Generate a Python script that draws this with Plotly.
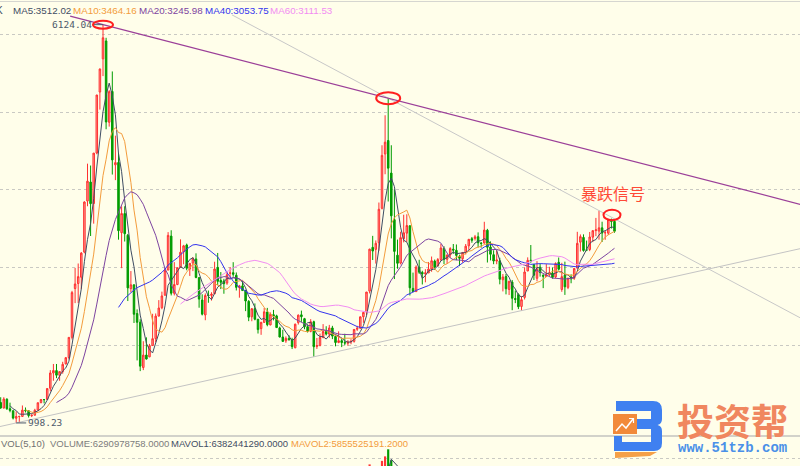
import pandas as pd
import plotly.graph_objects as go

W, H = 800, 466
BG = "#fffeea"

# ---- Shanghai Composite, monthly bars (Dec 2004 .. Jul 2021) ----
MONTHS = pd.period_range("2004-12", "2021-07", freq="M").strftime("%Y-%m").tolist()

OPEN = [
    1340,
    1261, 1189, 1303, 1181, 1155, 1058, 1080, 1082, 1163, 1155, 1092, 1098,
    1163, 1260, 1299, 1300, 1445, 1641, 1672, 1612, 1658, 1758, 1840, 2100,
    2728, 2792, 2874, 3197, 3854, 4098, 3822, 4472, 5257, 5684, 5914, 4868,
    5265, 4320, 4350, 3447, 3693, 3414, 2727, 2775, 2406, 2295, 1711, 1872,
    1849, 1994, 2084, 2373, 2481, 2641, 2966, 3403, 2667, 2780, 3000, 3200,
    3289, 2979, 3055, 3109, 2868, 2580, 2388, 2641, 2639, 2661, 3000, 2834,
    2825, 2798, 2925, 2932, 2899, 2740, 2762, 2702, 2563, 2364, 2469, 2333,
    2212, 2292, 2426, 2260, 2392, 2376, 2221, 2104, 2055, 2086, 2069, 1966,
    2289, 2389, 2340, 2237, 2178, 2301, 1983, 1996, 2098, 2175, 2141, 2221,
    2112, 2034, 2057, 2033, 2023, 2040, 2048, 2204, 2218, 2366, 2425, 2695,
    3258, 3232, 3318, 3760, 4460, 4633, 4214, 3614, 3157, 3056, 3369, 3441,
    3536, 2730, 2688, 3003, 2936, 2917, 2929, 2979, 3081, 3017, 3101, 3244,
    3105, 3160, 3234, 3220, 3142, 3112, 3192, 3278, 3370, 3373, 3395, 3315,
    3314, 3478, 3262, 3163, 3081, 3084, 2841, 2882, 2716, 2811, 2599, 2650,
    2497, 2614, 2954, 3092, 3035, 2860, 3003, 2900, 2882, 2903, 2928, 2878,
    3066, 2716, 2899, 2743, 2877, 2860, 2991, 3325, 3386, 3225, 3230, 3389,
    3474, 3467, 3509, 3445, 3441, 3617, 3592,
]
HIGH = [
    1346,
    1329, 1329, 1316, 1259, 1158, 1147, 1085, 1223, 1197, 1157, 1104, 1180,
    1260, 1306, 1304, 1445, 1678, 1757, 1757, 1662, 1785, 1847, 2101, 2698,
    2994, 3050, 3197, 3851, 4335, 4311, 4472, 5219, 5561, 6124.04, 5955, 5281,
    5522, 4695, 4472, 3786, 3787, 3430, 2953, 2785, 2460, 2333, 2050, 2100,
    2016, 2403, 2407, 2579, 2688, 2993, 3454, 3478, 3068, 3000, 3361, 3290,
    3306, 3052, 3133, 3181, 2874, 2654, 2665, 2702, 2680, 3073, 3186, 2940,
    2853, 2942, 3002, 3067, 2935, 2775, 2827, 2711, 2579, 2475, 2536, 2335,
    2300, 2478, 2479, 2420, 2453, 2391, 2237, 2197, 2112, 2126, 2094, 2276,
    2394, 2444, 2350, 2269, 2334, 2314, 2092, 2149, 2270, 2243, 2260, 2248,
    2126, 2177, 2087, 2146, 2064, 2076, 2207, 2248, 2366, 2423, 2683, 3240,
    3406, 3347, 3835, 4572, 4958, 5178.19, 4572, 4006, 3358, 3459, 3678, 3684,
    3539, 2933, 3026, 3098, 2957, 2977, 3070, 3140, 3101, 3120, 3301, 3272,
    3165, 3260, 3301, 3295, 3163, 3193, 3301, 3367, 3392, 3418, 3451, 3324,
    3587, 3496, 3334, 3220, 3219, 3124, 2915, 2915, 2827, 2838, 2703, 2667,
    2630, 2999, 3129, 3288, 3044, 3080, 3048, 2910, 3042, 3008, 2998, 3065,
    3127, 3059, 3074, 2867, 2911, 2993, 3458, 3424, 3425, 3345, 3456, 3474,
    3637, 3731.69, 3588, 3481, 3625, 3628, 3620,
]
LOW = [
    1259,
    1179, 1187, 1166, 1135, 1043, 998.23, 1004, 1078, 1133, 1068, 1074, 1094,
    1163, 1251, 1250, 1297, 1405, 1541, 1575, 1541, 1632, 1751, 1816, 2073,
    2540, 2541, 2722, 3181, 3787, 3404, 3563, 4456, 5031, 5462, 4778, 4812,
    4195, 4123, 3357, 2990, 3333, 2567, 2680, 2284, 1803, 1664.93, 1678, 1814,
    1844, 1990, 2037, 2370, 2461, 2640, 2963, 2639, 2639, 2771, 2999, 3040,
    2963, 2890, 2952, 2860, 2481, 2382, 2320, 2545, 2573, 2661, 2774, 2721,
    2661, 2776, 2861, 2880, 2703, 2610, 2700, 2437, 2308, 2307, 2319, 2149,
    2132, 2289, 2242, 2254, 2318, 2224, 2100, 2046, 2029, 2058, 1949, 1959,
    2264, 2299, 2204, 2162, 2165, 1849.65, 1951, 1984, 2088, 2124, 2095, 2077,
    1984, 2024, 1974, 1999, 1991, 2011, 2032, 2183, 2209, 2287, 2386, 2665,
    3095, 3049, 3214, 3746, 4199, 3848, 3373, 2850, 2983, 3039, 3322, 3328,
    2638, 2682, 2684, 2916, 2780, 2808, 2927, 2944, 2969, 3017, 3082, 3042,
    3045, 3123, 3174, 3093, 3016, 3062, 3166, 3225, 3317, 3346, 3255, 3254,
    3305, 3063, 3091, 3041, 3041, 2782, 2691, 2653, 2644, 2449, 2540, 2463,
    2440, 2587, 2952, 3059, 2838, 2822, 2881, 2733, 2877, 2891, 2855, 2857,
    2960, 2686, 2646, 2720, 2796, 2840, 2988, 3204, 3202, 3209, 3209, 3325,
    3402, 3357, 3328, 3355, 3416, 3500, 3446,
]
CLOSE = [
    1266.50,
    1191.82, 1306.00, 1181.24, 1159.15, 1060.74, 1080.94, 1083.03, 1162.80, 1155.61, 1092.82, 1099.26, 1161.06,
    1258.05, 1299.03, 1298.30, 1440.22, 1641.30, 1672.21, 1612.73, 1658.64, 1752.42, 1837.99, 2099.29, 2675.47,
    2786.34, 2881.07, 3183.98, 3841.27, 4109.65, 3820.70, 4471.03, 5218.83, 5552.30, 5954.77, 4871.78, 5261.56,
    4383.39, 4348.54, 3472.71, 3693.11, 3433.35, 2736.10, 2775.72, 2397.37, 2293.78, 1728.79, 1871.16, 1820.81,
    1990.66, 2082.85, 2373.21, 2477.57, 2632.93, 2959.36, 3412.06, 2667.74, 2779.43, 2995.85, 3195.30, 3277.14,
    2989.29, 3051.94, 3109.10, 2870.61, 2592.15, 2398.37, 2637.50, 2638.80, 2655.66, 2978.84, 2820.18, 2808.08,
    2790.69, 2905.05, 2928.11, 2911.51, 2743.47, 2762.08, 2701.73, 2567.34, 2359.22, 2468.25, 2333.41, 2199.42,
    2292.61, 2428.49, 2262.79, 2396.32, 2372.23, 2225.43, 2103.63, 2047.52, 2086.17, 2068.88, 1980.12, 2269.13,
    2385.42, 2365.59, 2236.62, 2177.91, 2300.59, 1979.21, 1993.80, 2098.38, 2174.67, 2141.61, 2220.50, 2115.98,
    2033.08, 2056.30, 2033.31, 2026.36, 2039.21, 2048.33, 2201.56, 2217.20, 2363.87, 2420.18, 2682.84, 3234.68,
    3210.36, 3310.30, 3747.90, 4441.66, 4611.74, 4277.22, 3663.73, 3205.99, 3052.78, 3382.56, 3445.40, 3539.18,
    2737.60, 2687.98, 3003.92, 2938.32, 2916.62, 2929.61, 2979.34, 3085.49, 3004.70, 3100.49, 3250.03, 3103.64,
    3159.17, 3241.73, 3222.51, 3154.66, 3117.18, 3192.43, 3273.03, 3360.81, 3348.94, 3393.34, 3317.19, 3307.17,
    3480.83, 3259.41, 3169.05, 3082.23, 3095.47, 2847.42, 2876.40, 2725.25, 2821.35, 2602.78, 2588.19, 2493.90,
    2584.57, 2940.95, 3090.76, 3078.34, 2898.70, 2978.88, 2932.69, 2886.24, 2905.19, 2929.06, 2871.98, 3050.12,
    2976.53, 2880.30, 2750.30, 2860.08, 2852.35, 2984.67, 3310.01, 3395.68, 3218.00, 3224.53, 3391.76, 3473.07,
    3483.07, 3509.08, 3441.91, 3446.86, 3615.48, 3591.20, 3464.65,
]
# monthly volume, in units of 1e8 lots
VOLUME = [
    4.2,
    3.5, 5.0, 4.6, 5.3, 3.4, 5.6, 3.6, 6.9, 4.9, 3.3, 3.4, 4.8,
    5.2, 6.7, 6.2, 9.9, 17.5, 17.0, 13.6, 8.7, 10.4, 9.8, 18.6, 30.5,
    37.4, 27.8, 40.2, 56.3, 68.0, 44.1, 36.5, 42.7, 32.0, 24.6, 19.5, 21.3,
    26.8, 14.4, 20.6, 25.5, 23.2, 14.6, 16.3, 11.4, 14.8, 11.9, 17.0, 20.9,
    13.8, 33.2, 39.5, 38.1, 29.7, 41.4, 60.6, 42.2, 34.2, 26.7, 47.7, 35.6,
    37.2, 19.9, 29.1, 31.4, 27.3, 16.1, 22.7, 30.3, 20.0, 41.6, 45.6, 26.0,
    21.3, 25.5, 35.0, 32.3, 22.6, 19.4, 24.2, 23.7, 14.7, 14.9, 20.4, 13.8,
    9.6, 25.5, 28.4, 19.0, 24.1, 14.3, 15.4, 14.6, 12.9, 9.4, 11.3, 25.0,
    30.3, 20.9, 29.5, 16.6, 27.4, 20.8, 21.3, 25.6, 28.6, 21.4, 22.8, 18.0,
    13.5, 18.2, 17.9, 16.0, 14.3, 15.6, 21.8, 27.8, 35.0, 31.0, 45.2, 124.5,
    86.0, 48.6, 117.0, 130.0, 137.0, 148.0, 131.0, 80.0, 40.3, 52.5, 86.7, 80.1,
    47.5, 30.5, 56.9, 50.0, 33.0, 40.9, 50.3, 48.6, 28.9, 30.5, 59.8, 42.6,
    25.8, 37.3, 45.0, 30.4, 30.6, 31.9, 37.1, 46.1, 37.9, 28.4, 39.9, 32.5,
    49.2, 30.0, 37.5, 29.9, 33.1, 30.6, 30.2, 26.6, 20.8, 22.3, 33.2, 22.6,
    26.4, 47.7, 88.0, 69.5, 39.3, 32.2, 33.6, 38.1, 38.8, 25.0, 27.8, 40.4,
    29.4, 61.0, 57.4, 36.5, 34.3, 45.3, 96.8, 74.6, 56.2, 38.6, 57.9, 55.3,
    64.2, 50.43045462, 72.5, 58.4, 63.2, 62.11227692, 62.90978758,
]

MA_PERIODS = [5, 10, 20, 40, 60]
MA_COLORS = ["#3f4d63", "#f39c3c", "#7d44a0", "#3434ee", "#f28df2"]
MAVOL_PERIODS = [5, 10]
MAVOL_COLORS = ["#3f4d63", "#f39c3c"]

# bars the trend lines are anchored on
PEAK_2007, PEAK_2015, PEAK_2021, LAST = 34, 126, 194, len(CLOSE) - 1
LOW_2005, LOW_2013 = 6, 102

# ---- axes calibration ----
X_RANGE = [0.774, 258.84]
Y_RANGE = [830.1, 6441.4]
PRICE_DOMAIN = [1 - 436 / H, 1]
VOL_DOMAIN = [0, 18 / H]
VOL_RANGE = [122, 150]

idx = list(range(len(CLOSE)))
close_s = pd.Series(CLOSE)
vol_s = pd.Series(VOLUME)
ma = {p: close_s.rolling(p).mean() for p in MA_PERIODS}
mavol = {p: vol_s.rolling(p).mean() for p in MAVOL_PERIODS}


def pxp(x):
    return x / W


def pyp(y):
    return 1 - y / H


def pix_path(s):
    out, nums = [], []
    for tok in s.replace(",", " ").split():
        if tok.isalpha():
            out.append(tok)
        else:
            nums.append(float(tok))
            if len(nums) == 2:
                out.append(f"{pxp(nums[0]):.5f},{pyp(nums[1]):.5f}")
                nums = []
    return " ".join(out)


fig = go.Figure()

fig.add_trace(go.Candlestick(
    x=idx, open=OPEN, high=HIGH, low=LOW, close=CLOSE,
    text=MONTHS, hoverinfo="text+y",
    increasing=dict(line=dict(color="#ff3030", width=1), fillcolor="#ff9c94"),
    decreasing=dict(line=dict(color="#009c00", width=1), fillcolor="#009c00"),
    whiskerwidth=0, showlegend=False,
))

for p, c in zip(MA_PERIODS, MA_COLORS):
    fig.add_trace(go.Scatter(x=idx, y=ma[p], mode="lines", line=dict(color=c, width=1),
                             hoverinfo="skip", showlegend=False))

vol_colors = ["#ff3535" if c >= o else "#009c00" for o, c in zip(OPEN, CLOSE)]
fig.add_trace(go.Bar(x=idx, y=VOLUME, marker=dict(color=vol_colors, line=dict(width=0)),
                     width=0.7, yaxis="y2", hoverinfo="skip", showlegend=False))
for p, c in zip(MAVOL_PERIODS, MAVOL_COLORS):
    fig.add_trace(go.Scatter(x=idx, y=mavol[p], mode="lines", line=dict(color=c, width=1),
                             yaxis="y2", hoverinfo="skip", showlegend=False))


def trend(i1, p1, i2, p2, start, end, color, width):
    k = (p2 - p1) / (i2 - i1)
    return dict(type="line", xref="x", yref="y", x0=start, y0=p1 + k * (start - i1),
                x1=end, y1=p1 + k * (end - i1), line=dict(color=color, width=width), layer="above")


shapes = [
    # top border and panel separator
    dict(type="line", xref="paper", yref="paper", x0=0, x1=1, y0=pyp(1.5), y1=pyp(1.5),
         line=dict(color="#d6d6d0", width=1)),
    dict(type="line", xref="paper", yref="paper", x0=0, x1=1, y0=pyp(436), y1=pyp(436),
         line=dict(color="#d2d2ca", width=2)),
    trend(LOW_2005, LOW[LOW_2005], LOW_2013, LOW[LOW_2013], X_RANGE[0] - 1, X_RANGE[1] + 1, "#c4c4c4", 1),
    trend(PEAK_2015, HIGH[PEAK_2015], PEAK_2021, HIGH[PEAK_2021], 75.6, X_RANGE[1] + 1, "#c8c8c8", 1),
    trend(PEAK_2007, HIGH[PEAK_2007], PEAK_2015, HIGH[PEAK_2015], 23.4, X_RANGE[1] + 1, "#9b3f98", 1.2),
]

# red rings on the marked highs
for i, (x0, x1, y0, y1) in [(PEAK_2007, (-10, 10, -4, 4)), (PEAK_2015, (-12, 12, -6, 6)),
                            (LAST, (-11, 6, -1, 9.5))]:
    shapes.append(dict(type="circle", xref="x", yref="y", xsizemode="pixel", ysizemode="pixel",
                       xanchor=i, yanchor=HIGH[i], x0=x0, x1=x1, y0=y0, y1=y1,
                       line=dict(color="#ff1f1f", width=2), layer="above"))

# site logo
shapes += [
    dict(type="path", xref="paper", yref="paper", fillcolor="#3f80f0", line=dict(width=0),
         path=pix_path("M 616 401 L 653 401 Q 662 401 662 410 L 662 419 Q 662 424 657.5 425 "
                       "Q 662 426 662 431 L 662 443 Q 662 451 654 451 L 614 451 L 614 436 "
                       "L 622 436 L 622 442 L 651 442 L 651 429 L 637 429 L 637 419 L 651 419 "
                       "L 651 411 L 616 411 Z")),
    dict(type="path", xref="paper", yref="paper", fillcolor="#f28a3a", line=dict(width=0),
         path=pix_path("M 613 414 L 637 414 L 637 434 L 613 434 Z")),
    dict(type="path", xref="paper", yref="paper", line=dict(color="white", width=1.5),
         path=pix_path("M 616 431 L 622 424 L 626 428 L 633 419")),
    dict(type="path", xref="paper", yref="paper", line=dict(color="white", width=1.2),
         path=pix_path("M 629 418.5 L 633.5 418.5 L 633.5 423")),
    dict(type="path", xref="paper", yref="paper", fillcolor="#f5a048", line=dict(width=0),
         path=pix_path("M 615 452 L 657 452 L 650 456 L 615 458 Z")),
]

SANS = "Liberation Sans"
MONO = "DejaVu Sans Mono"
annotations = []


def label(x, y, text, color, size, family=SANS, xanchor="left", pad=1):
    annotations.append(dict(xref="paper", yref="paper", x=pxp(x), y=pyp(y), text=text,
                            showarrow=False, xanchor=xanchor, yanchor="middle", borderpad=pad,
                            font=dict(family=family, size=size, color=color)))


# moving-average header (the leading "K" runs off the left edge)
label(5, 10.5, "K", "#3f4d63", 10, xanchor="right")
for (p, c), x in zip(zip(MA_PERIODS, MA_COLORS), [11, 71, 137, 203, 268]):
    label(x, 10.5, f"MA{p}:{ma[p].iloc[-1]:.2f}", c, 9.8)

# volume header
label(-1, 443.5, "VOL(5,10)", "#707070", 9.5)
label(48, 443.5, f"VOLUME:{round(VOLUME[-1] * 1e8, 1):.4f}", "#7c7c7c", 9.5)
label(169, 443.5, f"MAVOL1:{round(mavol[5].iloc[-1] * 1e8, 1):.4f}", "#3f4d63", 9.5)
label(289, 443.5, f"MAVOL2:{round(mavol[10].iloc[-1] * 1e8, 1):.4f}", "#f39c3c", 9.5)

# extreme-value tags
hi_i = max(idx, key=lambda i: HIGH[i])
lo_i = min(idx, key=lambda i: LOW[i])
annotations.append(dict(xref="x", yref="y", x=hi_i, y=HIGH[hi_i], text=f"{HIGH[hi_i]:.2f}",
                        showarrow=True, arrowhead=0, arrowwidth=1, arrowcolor="#4d5a6b",
                        ax=-9, ay=0, xanchor="right", yanchor="middle",
                        font=dict(family=MONO, size=9.5, color="#4d5a6b")))
annotations.append(dict(xref="x", yref="y", x=lo_i, y=LOW[lo_i], text=f"{LOW[lo_i]:.2f}",
                        showarrow=True, arrowhead=0, arrowwidth=1, arrowcolor="#4d5a6b",
                        ax=10, ay=0, xanchor="left", yanchor="middle",
                        font=dict(family=MONO, size=9.5, color="#4d5a6b")))

# signal note over the last bar
annotations.append(dict(xref="x", yref="y", x=LAST, y=HIGH[LAST], text="暴跌信号",
                        showarrow=False, xanchor="center", yanchor="middle",
                        xshift=-1.5, yshift=26,
                        font=dict(family="Noto Sans CJK SC", size=16, color="#ff4a36")))

# logo wording
label(676, 419.5, "<b>投资帮</b>", "#f0875f", 37, family="Noto Sans CJK SC", pad=0)
label(677, 448, "<b>www.51tzb.com</b>", "#4a90e8", 14, family="Liberation Mono", pad=0)

fig.update_layout(
    width=W, height=H, margin=dict(l=0, r=0, t=0, b=0),
    paper_bgcolor=BG, plot_bgcolor=BG,
    showlegend=False, hovermode="closest",
    xaxis=dict(range=X_RANGE, domain=[0, 1], visible=False, rangeslider=dict(visible=False),
               fixedrange=True),
    yaxis=dict(domain=PRICE_DOMAIN, range=Y_RANGE, tickvals=[2000, 3000, 4000, 5000, 6000],
               showticklabels=False, ticks="", zeroline=False, showline=False,
               gridcolor="#c9c9c3", griddash="dot", gridwidth=1, fixedrange=True),
    yaxis2=dict(domain=VOL_DOMAIN, range=VOL_RANGE, anchor="x", tickvals=[133],
                showticklabels=False, ticks="", zeroline=False, showline=False,
                gridcolor="#c9c9c3", griddash="dot", gridwidth=1, fixedrange=True),
    shapes=shapes, annotations=annotations,
)

fig.write_html("out.html")
